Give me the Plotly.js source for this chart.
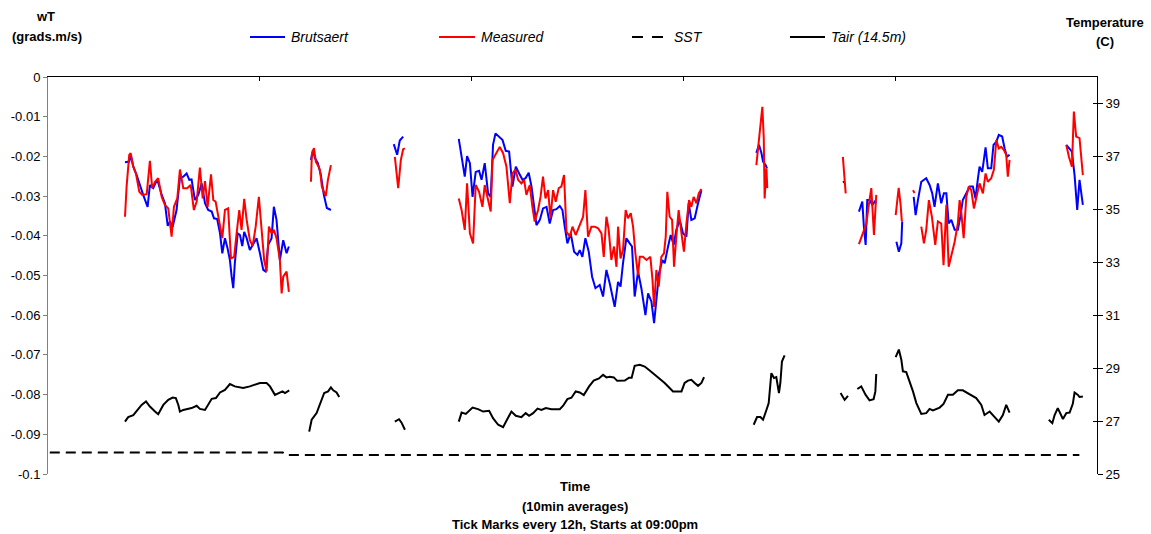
<!DOCTYPE html>
<html>
<head>
<meta charset="utf-8">
<script src="https://cdn.plot.ly/plotly-3.0.1.min.js"></script>
<style>
html,body{margin:0;padding:0;background:#fff;}
#chart{width:1151px;height:534px;}
</style>
</head>
<body>
<div id="chart"></div>
<script>
// ---- time in hours since start (09:00pm), 10-min averages ----
const brutTime = [
4.36,4.60,4.68,4.83,5.02,5.21,5.39,5.64,5.77,5.96,6.19,6.44,6.62,6.78,6.91,7.06,7.28,7.47,7.66,7.85,8.00,8.13,8.32,8.51,8.70,8.89,9.07,9.27,9.40,9.58,9.74,9.87,10.02,10.17,10.30,10.40,10.49,10.58,10.74,10.87,11.00,11.11,11.25,11.43,11.62,11.81,12.00,12.19,12.32,12.47,12.66,12.79,12.94,13.13,13.32,13.51,13.64,null,
14.89,15.00,15.11,15.28,15.45,15.62,15.79,16.02,null,
19.58,19.77,19.92,20.11,null,
23.26,23.47,23.60,23.73,23.89,24.04,24.22,24.41,24.55,24.73,24.92,25.07,25.20,25.34,25.54,25.74,25.92,26.11,26.30,26.49,26.68,26.87,27.04,27.22,27.38,27.51,27.66,27.85,28.03,28.23,28.41,28.60,28.79,28.98,29.13,29.26,29.41,29.60,29.79,29.98,30.11,30.26,30.43,30.62,30.81,31.00,31.24,31.43,31.62,31.81,31.94,32.09,32.28,32.42,32.56,32.75,32.94,33.07,33.22,33.41,33.60,33.83,33.98,34.17,34.32,34.45,34.60,34.79,34.92,35.11,35.26,35.43,35.58,35.77,35.96,36.15,36.28,36.43,36.62,36.81,37.00,null,
40.11,40.26,40.40,40.49,40.64,40.71,null,
45.04,45.08,null,
45.92,46.11,46.20,46.30,46.39,46.52,46.68,46.81,46.90,null,
48.04,48.18,48.32,48.37,null,
49.02,49.13,49.26,49.45,49.73,49.92,50.07,50.20,50.39,50.58,50.73,50.87,51.00,51.15,51.34,51.52,51.66,51.80,52.00,52.18,52.37,52.52,52.66,52.75,52.90,53.09,53.22,53.41,53.54,53.70,53.84,54.03,54.17,54.30,54.45,null,
57.66,57.85,57.98,58.13,58.28,58.41,58.60
];
const brutWT = [
-0.0215,-0.0213,-0.0196,-0.0226,-0.0247,-0.0276,-0.0297,-0.0327,-0.0272,-0.0280,-0.0258,-0.0297,-0.0318,-0.0375,-0.0364,-0.0377,-0.0335,-0.0255,-0.0251,-0.0243,-0.0259,-0.0258,-0.0310,-0.0297,-0.0268,-0.0318,-0.0335,-0.0339,-0.0356,-0.0358,-0.0394,-0.0444,-0.0406,-0.0432,-0.0461,-0.0503,-0.0532,-0.0469,-0.0394,-0.0398,-0.0426,-0.0390,-0.0406,-0.0436,-0.0419,-0.0406,-0.0444,-0.0486,-0.0490,-0.0423,-0.0406,-0.0327,-0.0360,-0.0461,-0.0411,-0.0444,-0.0427,null,
-0.0209,-0.0184,-0.0204,-0.0217,-0.0247,-0.0297,-0.0330,-0.0335,null,
-0.0169,-0.0196,-0.0160,-0.0150,null,
-0.0156,-0.0209,-0.0251,-0.0199,-0.0217,-0.0302,-0.0239,-0.0236,-0.0259,-0.0217,-0.0293,-0.0302,-0.0171,-0.0142,-0.0150,-0.0159,-0.0186,-0.0188,-0.0276,-0.0226,-0.0243,-0.0259,-0.0255,-0.0241,-0.0276,-0.0327,-0.0373,-0.0360,-0.0331,-0.0327,-0.0369,-0.0335,-0.0333,-0.0325,-0.0335,-0.0377,-0.0419,-0.0394,-0.0440,-0.0448,-0.0436,-0.0453,-0.0406,-0.0440,-0.0503,-0.0532,-0.0524,-0.0553,-0.0486,-0.0520,-0.0549,-0.0579,-0.0516,-0.0528,-0.0469,-0.0406,-0.0419,-0.0427,-0.0553,-0.0490,-0.0532,-0.0600,-0.0545,-0.0566,-0.0620,-0.0562,-0.0494,-0.0461,-0.0469,-0.0427,-0.0398,-0.0423,-0.0385,-0.0360,-0.0394,-0.0402,-0.0318,-0.0360,-0.0356,-0.0318,-0.0285,null,
-0.0191,-0.0171,-0.0192,-0.0213,-0.0222,-0.0230,null,
-0.0262,-0.0267,null,
-0.0339,-0.0314,-0.0377,-0.0423,-0.0310,-0.0310,-0.0322,-0.0314,-0.0318,null,
-0.0415,-0.0440,-0.0419,-0.0364,null,
-0.0302,-0.0348,-0.0310,-0.0264,-0.0255,-0.0272,-0.0293,-0.0327,-0.0268,-0.0318,-0.0293,-0.0293,-0.0369,-0.0360,-0.0385,-0.0385,-0.0352,-0.0310,-0.0293,-0.0276,-0.0276,-0.0306,-0.0255,-0.0226,-0.0239,-0.0177,-0.0230,-0.0230,-0.0171,-0.0163,-0.0146,-0.0150,-0.0180,-0.0201,-0.0196,null,
-0.0171,-0.0180,-0.0188,-0.0247,-0.0335,-0.0259,-0.0322
];

const measTime = [
4.36,4.45,4.60,4.68,4.83,4.98,5.17,5.34,5.59,5.77,5.90,6.06,6.24,6.44,6.62,6.81,7.00,7.13,7.32,7.47,7.66,7.88,8.08,8.26,8.42,8.60,8.76,8.89,9.04,9.23,9.36,9.49,9.68,9.87,10.02,10.20,10.36,10.54,10.68,10.83,10.96,11.11,11.25,11.43,11.59,11.76,11.94,12.10,12.24,12.38,12.51,12.66,12.79,12.94,13.13,13.23,13.32,13.51,13.64,null,
14.89,14.94,15.06,15.17,15.28,15.40,15.51,15.62,15.73,15.85,16.02,null,
19.64,19.83,19.98,20.11,20.21,null,
23.26,23.42,23.60,23.73,23.89,24.07,24.22,24.41,24.60,24.73,24.92,25.07,25.17,25.36,25.58,25.77,25.96,26.15,26.30,26.47,26.62,26.81,26.96,27.09,27.28,27.43,27.56,27.75,27.89,28.03,28.17,28.32,28.45,28.60,28.75,28.92,29.07,29.22,29.36,29.55,29.70,29.88,30.07,30.30,30.43,30.58,30.77,30.96,31.15,31.34,31.47,31.62,31.75,31.90,32.05,32.19,32.28,32.42,32.56,32.71,32.84,33.00,33.13,33.26,33.41,33.51,33.69,33.89,34.11,34.23,34.32,34.45,34.58,34.73,34.88,34.98,35.07,35.20,35.34,35.45,35.58,35.71,35.87,36.01,36.15,36.30,36.43,36.56,36.72,36.85,37.00,null,
40.11,40.24,40.34,40.45,40.53,40.58,40.68,40.73,null,
45.01,45.11,45.17,null,
45.92,46.15,46.34,46.49,46.62,46.77,46.90,null,
48.00,48.07,48.17,48.28,48.35,null,
48.98,49.07,null,
49.45,49.60,49.73,49.88,50.05,50.24,50.39,50.58,50.71,50.87,51.00,51.15,51.34,51.52,51.62,51.72,51.85,52.00,52.14,52.28,52.43,52.60,52.75,52.94,53.09,53.22,53.41,53.56,53.70,53.84,53.98,54.13,54.26,54.35,54.45,null,
57.66,57.81,57.98,58.09,58.22,58.41,58.60
];
const measWT = [
-0.0352,-0.0276,-0.0196,-0.0192,-0.0226,-0.0243,-0.0289,-0.0297,-0.0295,-0.0211,-0.0280,-0.0264,-0.0255,-0.0302,-0.0322,-0.0331,-0.0402,-0.0327,-0.0306,-0.0233,-0.0280,-0.0280,-0.0272,-0.0335,-0.0314,-0.0228,-0.0306,-0.0262,-0.0327,-0.0245,-0.0310,-0.0314,-0.0360,-0.0406,-0.0335,-0.0331,-0.0457,-0.0453,-0.0394,-0.0335,-0.0385,-0.0307,-0.0360,-0.0411,-0.0426,-0.0377,-0.0302,-0.0394,-0.0461,-0.0490,-0.0377,-0.0394,-0.0385,-0.0406,-0.0461,-0.0545,-0.0503,-0.0490,-0.0541,null,
-0.0264,-0.0196,-0.0179,-0.0214,-0.0222,-0.0234,-0.0277,-0.0290,-0.0300,-0.0259,-0.0222,null,
-0.0201,-0.0280,-0.0209,-0.0182,-0.0180,null,
-0.0306,-0.0335,-0.0385,-0.0268,-0.0394,-0.0419,-0.0272,-0.0289,-0.0327,-0.0272,-0.0310,-0.0339,-0.0209,-0.0192,-0.0176,-0.0192,-0.0226,-0.0318,-0.0243,-0.0233,-0.0259,-0.0268,-0.0259,-0.0297,-0.0272,-0.0327,-0.0364,-0.0335,-0.0302,-0.0251,-0.0306,-0.0285,-0.0356,-0.0285,-0.0314,-0.0280,-0.0276,-0.0247,-0.0390,-0.0402,-0.0377,-0.0398,-0.0377,-0.0352,-0.0285,-0.0402,-0.0377,-0.0377,-0.0381,-0.0394,-0.0453,-0.0352,-0.0385,-0.0461,-0.0427,-0.0478,-0.0377,-0.0457,-0.0436,-0.0335,-0.0356,-0.0343,-0.0377,-0.0444,-0.0499,-0.0453,-0.0453,-0.0461,-0.0453,-0.0511,-0.0579,-0.0486,-0.0528,-0.0453,-0.0444,-0.0402,-0.0289,-0.0352,-0.0360,-0.0478,-0.0402,-0.0335,-0.0394,-0.0440,-0.0369,-0.0310,-0.0327,-0.0302,-0.0318,-0.0293,-0.0282,null,
-0.0222,-0.0159,-0.0108,-0.0075,-0.0154,-0.0306,-0.0230,-0.0280,null,
-0.0201,-0.0259,-0.0293,null,
-0.0421,-0.0394,-0.0369,-0.0318,-0.0280,-0.0398,-0.0297,null,
-0.0348,-0.0318,-0.0279,-0.0322,-0.0364,null,
-0.0285,-0.0292,null,
-0.0377,-0.0419,-0.0385,-0.0310,-0.0352,-0.0423,-0.0364,-0.0369,-0.0474,-0.0322,-0.0478,-0.0453,-0.0415,-0.0369,-0.0310,-0.0343,-0.0406,-0.0302,-0.0276,-0.0285,-0.0331,-0.0297,-0.0268,-0.0293,-0.0243,-0.0264,-0.0255,-0.0234,-0.0159,-0.0180,-0.0176,-0.0184,-0.0196,-0.0251,-0.0209,null,
-0.0171,-0.0201,-0.0226,-0.0087,-0.0150,-0.0154,-0.0247
];

const sstTime = [0.1, 13.30, 13.45, 58.40];
const sstC    = [25.81, 25.81, 25.72, 25.72];

const tairTime = [
4.36,4.54,4.83,5.11,5.30,5.55,5.77,6.06,6.24,6.53,6.81,7.06,7.24,7.38,7.47,7.66,7.88,8.13,8.42,8.60,8.89,9.07,9.27,9.51,9.74,10.02,10.30,10.58,11.05,11.43,11.72,12.00,12.38,12.57,12.85,13.13,13.28,13.42,13.66,null,
14.79,14.93,15.21,15.40,15.64,15.86,16.02,16.15,16.34,16.49,null,
19.64,19.88,20.02,20.21,null,
23.26,23.42,23.66,24.04,24.35,24.64,24.98,25.20,25.49,25.77,25.96,26.24,26.49,26.81,27.05,27.24,27.47,27.72,27.94,28.19,28.51,28.98,29.17,29.41,29.64,29.88,30.11,30.34,30.64,30.90,31.20,31.43,31.62,31.81,32.04,32.23,32.66,32.90,33.05,33.13,33.22,33.51,33.79,34.07,34.36,34.64,34.92,35.20,35.39,35.87,36.05,36.24,36.43,36.62,36.81,37.00,37.15,null,
39.96,40.15,40.34,40.49,40.68,40.81,40.96,41.11,41.24,41.39,41.47,41.56,41.71,null,
44.88,45.11,45.30,null,
45.83,46.05,46.30,46.52,46.75,46.85,46.90,null,
48.00,48.18,48.32,48.41,48.60,48.79,48.98,49.17,49.45,49.73,49.92,50.11,50.49,50.71,50.96,51.24,51.52,51.80,52.18,52.56,52.85,53.03,53.32,53.60,53.84,54.07,54.26,54.45,null,
56.67,56.87,57.00,57.18,57.47,57.66,57.85,58.03,58.13,58.32,58.41,58.60
];
const tairC = [
26.98,27.15,27.22,27.45,27.61,27.74,27.55,27.36,27.26,27.61,27.80,27.89,27.87,27.61,27.36,27.42,27.45,27.49,27.58,27.46,27.42,27.61,27.84,27.87,28.08,28.18,28.40,28.31,28.25,28.31,28.37,28.44,28.44,28.31,27.99,28.06,28.12,28.06,28.16,null,
26.60,27.05,27.30,27.61,28.06,28.12,28.27,28.16,28.08,27.91,null,
26.98,27.07,26.94,26.67,null,
26.98,27.32,27.27,27.51,27.45,27.36,27.39,27.11,26.86,26.77,27.01,27.36,27.20,27.15,27.30,27.20,27.30,27.47,27.42,27.49,27.45,27.45,27.58,27.83,27.88,28.12,28.08,27.98,28.31,28.53,28.61,28.75,28.65,28.67,28.65,28.52,28.53,28.64,28.64,28.88,29.09,29.13,29.06,28.91,28.75,28.63,28.44,28.25,28.12,28.12,28.44,28.53,28.56,28.44,28.33,28.44,28.66,null,
26.86,27.15,27.15,27.05,27.42,27.68,28.81,28.63,28.66,28.06,28.44,29.25,29.48,null,
28.06,27.80,27.95,null,
28.21,28.31,27.99,27.78,27.83,28.12,28.78,null,
29.42,29.70,29.32,28.88,28.85,28.50,28.12,27.68,27.27,27.30,27.46,27.40,27.51,27.65,27.99,27.99,28.16,28.16,28.02,27.87,27.61,27.23,27.36,27.15,26.98,27.23,27.61,27.32,null,
27.05,26.92,27.23,27.49,27.08,27.30,27.32,27.65,28.08,27.99,27.91,27.93
];

const wtTicks = [0,-0.01,-0.02,-0.03,-0.04,-0.05,-0.06,-0.07,-0.08,-0.09,-0.1];
const wtTickText = ["0","-0.01","-0.02","-0.03","-0.04","-0.05","-0.06","-0.07","-0.08","-0.09","-0.1"];
const tempTicks = [25,27,29,31,33,35,37,39];
const timeTicks = [12,24,36,48];
const seriesNames = ["Brutsaert","Measured","SST","Tair (14.5m)"];

// ---- layout helpers (pixel -> paper) ----
const M = {l:48, r:54, t:77, b:60};
const W = 1151, H = 534;
const PW = W - M.l - M.r, PH = H - M.t - M.b;
const PX = x => (x - M.l) / PW;
const PY = y => (H - M.b - y) / PH;
const FONT = "Liberation Sans, Arial, Helvetica, sans-serif";

const traces = [
  {x: brutTime, y: brutWT, name: seriesNames[0], type:'scatter', mode:'lines',
   line:{color:'#0000ff', width:2}, connectgaps:false, yaxis:'y', showlegend:false},
  {x: measTime, y: measWT, name: seriesNames[1], type:'scatter', mode:'lines',
   line:{color:'#ff0000', width:2}, connectgaps:false, yaxis:'y', showlegend:false},
  {x: sstTime, y: sstC, name: seriesNames[2], type:'scatter', mode:'lines',
   line:{color:'#000000', width:2, dash:'10px,6px'}, yaxis:'y3', showlegend:false},
  {x: tairTime, y: tairC, name: seriesNames[3], type:'scatter', mode:'lines',
   line:{color:'#000000', width:2}, connectgaps:false, yaxis:'y2', showlegend:false}
];

const legY = PY(37);
const shapes = [
  {type:'line', xref:'paper', yref:'paper', x0:PX(250), x1:PX(285), y0:legY, y1:legY, line:{color:'#0000ff', width:2}},
  {type:'line', xref:'paper', yref:'paper', x0:PX(439), x1:PX(475), y0:legY, y1:legY, line:{color:'#ff0000', width:2}},
  {type:'line', xref:'paper', yref:'paper', x0:PX(632), x1:PX(663), y0:legY, y1:legY, line:{color:'#000000', width:2, dash:'11px,9px'}},
  {type:'line', xref:'paper', yref:'paper', x0:PX(790), x1:PX(825), y0:legY, y1:legY, line:{color:'#000000', width:2}}
];

const ann = (txt, x, y, opts) => Object.assign({
  text: txt, xref:'paper', yref:'paper', x: PX(x), y: PY(y), showarrow:false,
  xanchor:'center', yanchor:'middle', font:{family:FONT, size:13, color:'#000'}
}, opts || {});

const annotations = [
  ann(seriesNames[0], 289, 37, {xanchor:'left', font:{family:FONT, size:14, color:'#000', style:'italic'}}),
  ann(seriesNames[1], 479, 37, {xanchor:'left', font:{family:FONT, size:14, color:'#000', style:'italic'}}),
  ann(seriesNames[2], 672, 37, {xanchor:'left', font:{family:FONT, size:14, color:'#000', style:'italic'}}),
  ann(seriesNames[3], 829, 37, {xanchor:'left', font:{family:FONT, size:14, color:'#000', style:'italic'}}),
  ann('<b>wT</b>', 45, 17),
  ann('<b>(grads.m/s)</b>', 47, 36),
  ann('<b>Temperature</b>', 1105, 22),
  ann('<b>(C)</b>', 1105, 41),
  ann('<b>Time</b>', 575, 487),
  ann('<b>(10min averages)</b>', 575, 506),
  ann('<b>Tick Marks every 12h, Starts at 09:00pm</b>', 575, 524)
];

const layout = {
  width: W, height: H,
  margin: M,
  paper_bgcolor:'#ffffff', plot_bgcolor:'#ffffff',
  showlegend:false,
  font:{family:FONT, size:13, color:'#000'},
  xaxis:{range:[0,59.4], side:'top', showline:true, linecolor:'#000', linewidth:1,
         ticks:'inside', ticklen:4, tickcolor:'#000', tickvals:timeTicks,
         showticklabels:false, showgrid:false, zeroline:false, fixedrange:true},
  yaxis:{range:[-0.1,0], tickvals:wtTicks, ticktext:wtTickText, ticks:'outside', ticklen:4,
         tickcolor:'#808080', showline:true, linecolor:'#808080', linewidth:1,
         showgrid:false, zeroline:false, tickfont:{family:FONT, size:13, color:'#000'}, fixedrange:true},
  yaxis2:{range:[25,40], overlaying:'y', side:'right', tickvals:tempTicks, ticks:'outside', ticklen:5,
          tickcolor:'#000', showline:true, linecolor:'#000', linewidth:1,
          showgrid:false, zeroline:false, tickfont:{family:FONT, size:13, color:'#000'}, fixedrange:true},
  yaxis3:{range:[25,40], overlaying:'y', side:'right', tickvals:tempTicks, ticks:'inside', ticklen:4,
          tickcolor:'#000', showline:false, showticklabels:false,
          showgrid:false, zeroline:false, fixedrange:true},
  shapes: shapes,
  annotations: annotations
};

Plotly.newPlot('chart', traces, layout, {displayModeBar:false, staticPlot:true});
</script>
</body>
</html>
